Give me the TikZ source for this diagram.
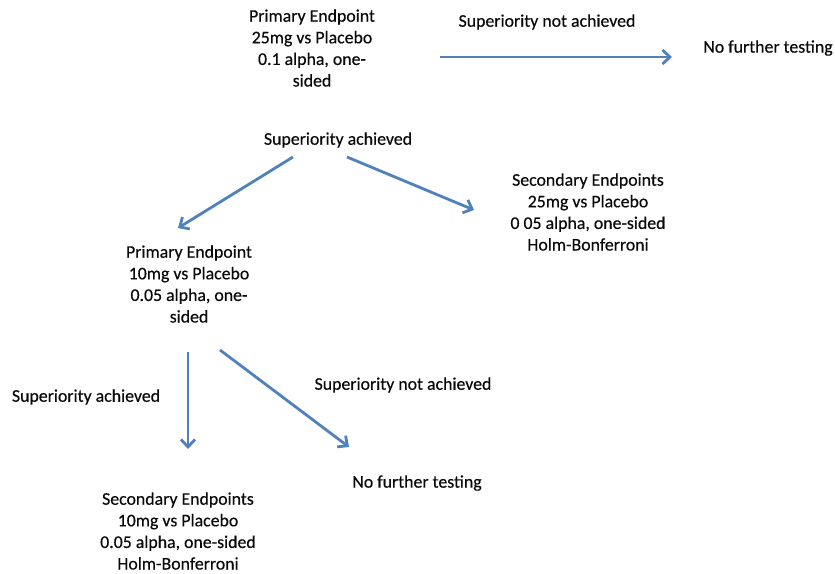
\documentclass[tikz,border=0pt]{standalone}
\usepackage{fontspec}
\setmainfont[FakeBold=0.4]{Carlito}
\usetikzlibrary{arrows.meta}
\definecolor{arrowblue}{RGB}{79,129,189}
\definecolor{txt}{RGB}{10,10,10}
\tikzset{
  lbl/.style={align=center, inner sep=0pt, text=txt, font=\fontsize{17.8}{21.6}\selectfont},
  conn/.style={draw=arrowblue, line width=2.8pt, -{Straight Barb[length=7.5pt,width=14pt,line width=2.8pt]}}
}
\begin{document}
\begin{tikzpicture}[x=1pt,y=-1pt]
\useasboundingbox (0,0) rectangle (835,573);
\node[lbl] (p1) at (312,48) {Primary Endpoint\\25mg vs Placebo\\0.1 alpha, one-\\sided};
\node[lbl] (sna1) at (547,22) {Superiority not achieved};
\node[lbl] (nft1) at (768,48) {No further testing};
\node[lbl] (sa1) at (338,140) {Superiority achieved};
\node[lbl] (s25) at (588,212) {Secondary Endpoints\\25mg vs Placebo\\0 05 alpha, one-sided\\Holm-Bonferroni};
\node[lbl] (p2) at (189,284) {Primary Endpoint\\10mg vs Placebo\\0.05 alpha, one-\\sided};
\node[lbl] (sa2) at (86,397) {Superiority achieved};
\node[lbl] (sna2) at (403,385) {Superiority not achieved};
\node[lbl] (nft2) at (417,483) {No further testing};
\node[lbl] (s10) at (178,531) {Secondary Endpoints\\10mg vs Placebo\\0.05 alpha, one-sided\\Holm-Bonferroni};
\coordinate (a1s) at (440,57);
\coordinate (a1e) at (672,57);
\coordinate (a2s) at (293,157);
\coordinate (a2e) at (178,228);
\coordinate (a3s) at (347,157);
\coordinate (a3e) at (474,210);
\coordinate (a4s) at (188,352);
\coordinate (a4e) at (188,449);
\coordinate (a5s) at (220,350);
\coordinate (a5e) at (349,447);
\draw[conn] (a1s) -- (a1e);
\draw[conn] (a2s) -- (a2e);
\draw[conn] (a3s) -- (a3e);
\draw[conn] (a4s) -- (a4e);
\draw[conn] (a5s) -- (a5e);
\end{tikzpicture}
\end{document}
